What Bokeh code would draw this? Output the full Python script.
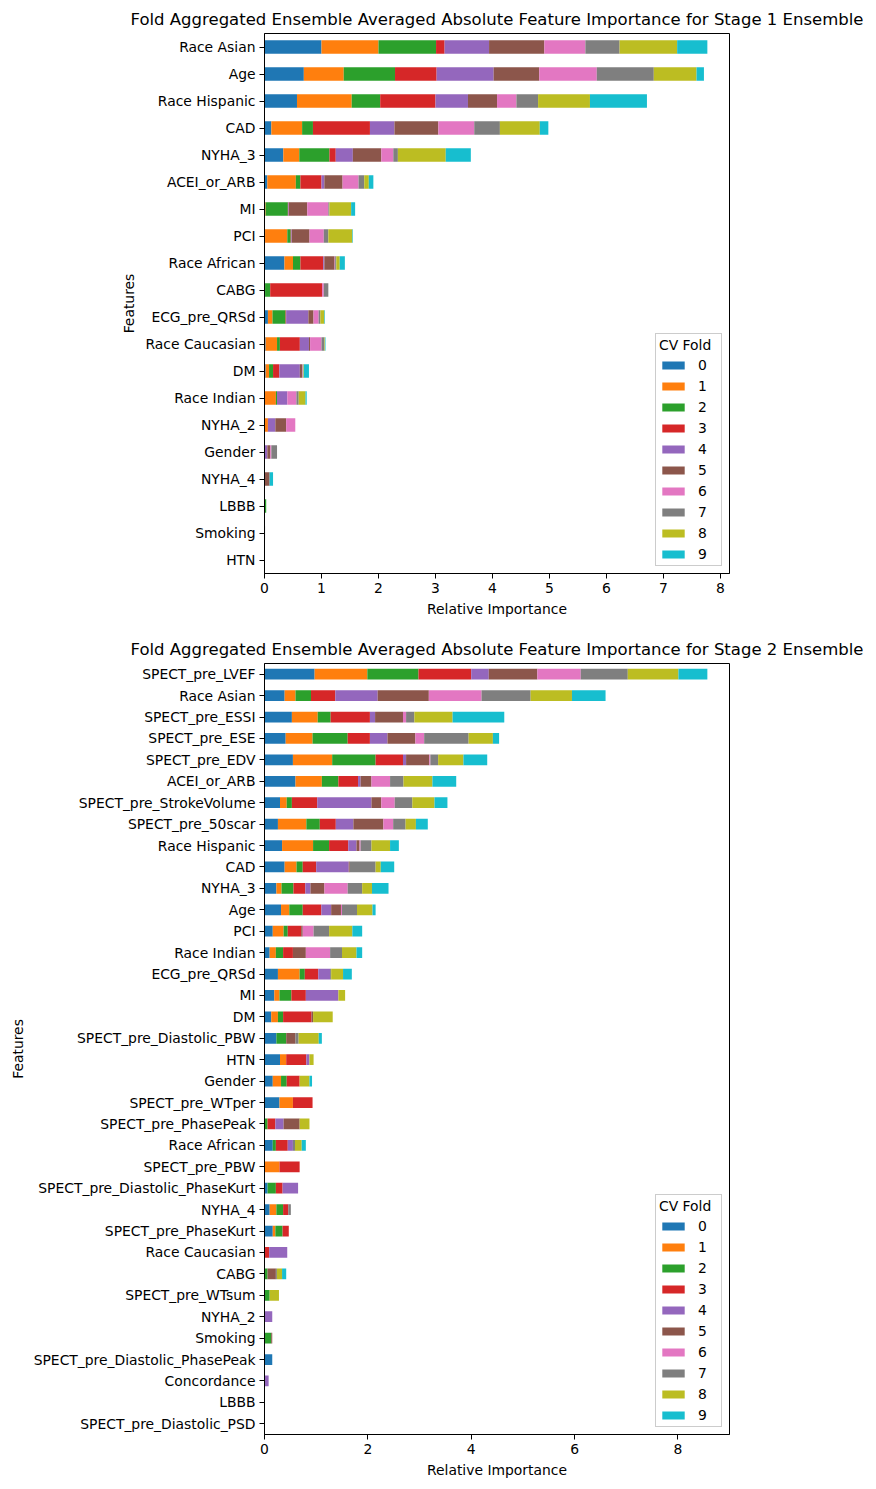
from bokeh.plotting import figure
from bokeh.models import ColumnDataSource, FactorRange, Range1d, FixedTicker
from bokeh.layouts import column
from bokeh.embed import file_html
from bokeh.resources import INLINE

COLORS = ["#1f77b4", "#ff7f0e", "#2ca02c", "#d62728", "#9467bd",
          "#8c564b", "#e377c2", "#7f7f7f", "#bcbd22", "#17becf"]
FOLDS = [str(i) for i in range(10)]
FONT = "DejaVu Sans"

# ---------------- Stage 1 ----------------
s1_features = ["Race Asian", "Age", "Race Hispanic", "CAD", "NYHA_3", "ACEI_or_ARB", "MI", "PCI",
               "Race African", "CABG", "ECG_pre_QRSd", "Race Caucasian", "DM", "Race Indian",
               "NYHA_2", "Gender", "NYHA_4", "LBBB", "Smoking", "HTN"]
s1_f0 = [1.00, 0.69, 0.57, 0.12, 0.33, 0.05, 0.01, 0.01, 0.35, 0.01, 0.06, 0.02, 0.02, 0.00, 0.00, 0.00, 0.00, 0.00, 0.00, 0.00]
s1_f1 = [1.00, 0.70, 0.96, 0.54, 0.28, 0.50, 0.01, 0.39, 0.15, 0.00, 0.08, 0.20, 0.06, 0.20, 0.06, 0.00, 0.00, 0.00, 0.00, 0.00]
s1_f2 = [1.01, 0.90, 0.50, 0.19, 0.53, 0.08, 0.39, 0.06, 0.13, 0.09, 0.23, 0.05, 0.07, 0.02, 0.00, 0.00, 0.00, 0.03, 0.00, 0.00]
s1_f3 = [0.15, 0.73, 0.97, 1.00, 0.11, 0.37, 0.01, 0.01, 0.40, 0.91, 0.01, 0.35, 0.11, 0.00, 0.00, 0.00, 0.00, 0.00, 0.00, 0.00]
s1_f4 = [0.78, 1.00, 0.57, 0.43, 0.30, 0.05, 0.01, 0.01, 0.02, 0.00, 0.39, 0.16, 0.36, 0.18, 0.13, 0.05, 0.00, 0.00, 0.00, 0.00]
s1_f5 = [0.97, 0.80, 0.51, 0.77, 0.50, 0.32, 0.32, 0.31, 0.18, 0.00, 0.09, 0.02, 0.04, 0.00, 0.19, 0.05, 0.09, 0.00, 0.00, 0.00]
s1_f6 = [0.72, 1.01, 0.34, 0.63, 0.21, 0.28, 0.37, 0.25, 0.01, 0.03, 0.09, 0.20, 0.01, 0.16, 0.16, 0.02, 0.00, 0.00, 0.00, 0.00]
s1_f7 = [0.60, 1.00, 0.38, 0.45, 0.08, 0.10, 0.02, 0.08, 0.02, 0.08, 0.03, 0.05, 0.01, 0.04, 0.00, 0.10, 0.00, 0.00, 0.01, 0.00]
s1_f8 = [1.01, 0.75, 0.91, 0.70, 0.84, 0.08, 0.38, 0.42, 0.06, 0.00, 0.07, 0.01, 0.01, 0.12, 0.00, 0.00, 0.00, 0.00, 0.00, 0.00]
s1_f9 = [0.53, 0.13, 1.00, 0.15, 0.44, 0.08, 0.07, 0.01, 0.09, 0.00, 0.01, 0.01, 0.09, 0.02, 0.00, 0.00, 0.06, 0.00, 0.00, 0.00]
s1_ticks = [0, 1, 2, 3, 4, 5, 6, 7, 8]

# ---------------- Stage 2 ----------------
s2_features = ["SPECT_pre_LVEF", "Race Asian", "SPECT_pre_ESSI", "SPECT_pre_ESE", "SPECT_pre_EDV",
               "ACEI_or_ARB", "SPECT_pre_StrokeVolume", "SPECT_pre_50scar", "Race Hispanic", "CAD",
               "NYHA_3", "Age", "PCI", "Race Indian", "ECG_pre_QRSd", "MI", "DM",
               "SPECT_pre_Diastolic_PBW", "HTN", "Gender", "SPECT_pre_WTper", "SPECT_pre_PhasePeak",
               "Race African", "SPECT_pre_PBW", "SPECT_pre_Diastolic_PhaseKurt", "NYHA_4",
               "SPECT_pre_PhaseKurt", "Race Caucasian", "CABG", "SPECT_pre_WTsum", "NYHA_2", "Smoking",
               "SPECT_pre_Diastolic_PhasePeak", "Concordance", "LBBB", "SPECT_pre_Diastolic_PSD"]
s2_f0 = [0.97, 0.39, 0.53, 0.41, 0.55, 0.60, 0.30, 0.26, 0.34, 0.39, 0.23, 0.32, 0.16, 0.10, 0.26, 0.19, 0.13, 0.23,
         0.30, 0.16, 0.29, 0.00, 0.16, 0.00, 0.06, 0.10, 0.16, 0.01, 0.00, 0.00, 0.00, 0.00, 0.15, 0.00, 0.00, 0.00]
s2_f1 = [1.02, 0.21, 0.50, 0.52, 0.76, 0.51, 0.13, 0.55, 0.60, 0.23, 0.10, 0.16, 0.21, 0.12, 0.42, 0.10, 0.13, 0.00,
         0.12, 0.16, 0.26, 0.00, 0.00, 0.29, 0.00, 0.13, 0.05, 0.00, 0.00, 0.00, 0.00, 0.00, 0.00, 0.00, 0.00, 0.00]
s2_f2 = [0.99, 0.30, 0.25, 0.68, 0.84, 0.32, 0.10, 0.26, 0.31, 0.12, 0.23, 0.26, 0.08, 0.14, 0.10, 0.23, 0.10, 0.19,
         0.00, 0.11, 0.00, 0.06, 0.06, 0.00, 0.16, 0.13, 0.14, 0.00, 0.06, 0.10, 0.00, 0.13, 0.00, 0.00, 0.00, 0.00]
s2_f3 = [1.02, 0.47, 0.76, 0.43, 0.53, 0.38, 0.49, 0.31, 0.37, 0.26, 0.23, 0.36, 0.26, 0.19, 0.26, 0.28, 0.55, 0.00,
         0.39, 0.25, 0.38, 0.15, 0.23, 0.39, 0.13, 0.10, 0.12, 0.08, 0.00, 0.00, 0.00, 0.00, 0.00, 0.00, 0.00, 0.00]
s2_f4 = [0.34, 0.82, 0.10, 0.34, 0.06, 0.05, 1.05, 0.34, 0.16, 0.63, 0.10, 0.19, 0.00, 0.00, 0.23, 0.63, 0.00, 0.00,
         0.06, 0.00, 0.00, 0.16, 0.10, 0.00, 0.30, 0.00, 0.00, 0.35, 0.00, 0.00, 0.15, 0.00, 0.00, 0.08, 0.00, 0.00]
s2_f5 = [0.94, 0.99, 0.54, 0.54, 0.45, 0.21, 0.19, 0.58, 0.06, 0.02, 0.27, 0.19, 0.03, 0.25, 0.00, 0.00, 0.03, 0.18,
         0.00, 0.00, 0.00, 0.31, 0.00, 0.00, 0.00, 0.00, 0.00, 0.00, 0.16, 0.00, 0.00, 0.02, 0.00, 0.00, 0.00, 0.00]
s2_f6 = [0.84, 1.02, 0.06, 0.17, 0.02, 0.36, 0.26, 0.19, 0.02, 0.00, 0.45, 0.02, 0.21, 0.47, 0.00, 0.00, 0.00, 0.00,
         0.00, 0.00, 0.00, 0.00, 0.00, 0.00, 0.00, 0.00, 0.00, 0.00, 0.00, 0.00, 0.00, 0.00, 0.00, 0.00, 0.00, 0.00]
s2_f7 = [0.91, 0.95, 0.16, 0.86, 0.15, 0.26, 0.34, 0.24, 0.21, 0.50, 0.28, 0.29, 0.30, 0.23, 0.02, 0.00, 0.00, 0.06,
         0.00, 0.00, 0.00, 0.00, 0.04, 0.00, 0.00, 0.05, 0.00, 0.00, 0.02, 0.00, 0.00, 0.00, 0.00, 0.00, 0.00, 0.00]
s2_f8 = [0.98, 0.80, 0.74, 0.47, 0.49, 0.56, 0.43, 0.20, 0.36, 0.10, 0.19, 0.30, 0.45, 0.28, 0.23, 0.13, 0.38, 0.39,
         0.08, 0.19, 0.00, 0.19, 0.13, 0.00, 0.00, 0.00, 0.00, 0.00, 0.10, 0.18, 0.00, 0.00, 0.00, 0.00, 0.00, 0.00]
s2_f9 = [0.56, 0.65, 1.00, 0.12, 0.46, 0.46, 0.25, 0.23, 0.17, 0.26, 0.32, 0.06, 0.19, 0.11, 0.17, 0.00, 0.00, 0.06,
         0.00, 0.05, 0.00, 0.00, 0.08, 0.00, 0.00, 0.00, 0.00, 0.00, 0.08, 0.00, 0.00, 0.00, 0.00, 0.00, 0.00, 0.00]
s2_ticks = [0, 2, 4, 6, 8]


def make_fig(title, features, folds, ticks, frame_h, min_top, min_bottom):
    data = {"feature": features}
    keys = []
    for k, vals in zip(FOLDS, folds):
        data["f" + k] = vals
        keys.append("f" + k)
    source = ColumnDataSource(data)
    totals = [sum(v[i] for v in folds) for i in range(len(features))]
    x_max = max(totals) * 1.05

    p = figure(frame_width=465, frame_height=frame_h,
               y_range=FactorRange(*reversed(features)), x_range=Range1d(0, x_max),
               output_backend="svg", toolbar_location=None, title=title,
               min_border_left=264, min_border_right=139, min_border_top=min_top,
               min_border_bottom=min_bottom, background_fill_color="white",
               border_fill_color="white")
    p.hbar_stack(keys, y="feature", height=0.5, color=COLORS, source=source,
                 legend_label=FOLDS, line_color=None)

    p.title.text_font = FONT
    p.title.text_font_size = "16.5px"
    p.title.text_font_style = "normal"
    p.title.align = "center"
    p.title.text_color = "black"

    p.xgrid.visible = False
    p.ygrid.visible = False
    p.outline_line_color = "black"
    p.outline_line_width = 1
    p.outline_line_alpha = 1

    p.xaxis.ticker = FixedTicker(ticks=ticks)
    p.xaxis.axis_label = "Relative Importance"
    p.yaxis.axis_label = "Features"
    for ax in (p.xaxis, p.yaxis):
        ax.axis_label_text_font = FONT
        ax.axis_label_text_font_size = "13.9px"
        ax.axis_label_text_font_style = "normal"
        ax.axis_label_text_color = "black"
        ax.major_label_text_font = FONT
        ax.major_label_text_font_size = "13.9px"
        ax.major_label_text_color = "black"
        ax.axis_line_color = "black"
        ax.major_tick_line_color = "black"
        ax.major_tick_in = 0
        ax.major_tick_out = 5
        ax.minor_tick_line_color = None
        ax.major_label_standoff = 4
        ax.axis_label_standoff = 5

    lg = p.legend[0]
    lg.location = "bottom_right"
    lg.title = "CV Fold"
    lg.title_text_font = FONT
    lg.title_text_font_size = "13.9px"
    lg.title_text_font_style = "normal"
    lg.title_text_color = "black"
    lg.label_text_font = FONT
    lg.label_text_font_size = "13.9px"
    lg.label_text_color = "black"
    lg.glyph_width = 28
    lg.glyph_height = 10
    lg.label_height = 13
    lg.label_standoff = 11
    lg.spacing = 5
    lg.padding = 3
    lg.margin = 7
    lg.border_line_color = "#cccccc"
    lg.border_line_alpha = 1
    lg.background_fill_alpha = 0.8
    lg.title_standoff = 4
    return p


p1 = make_fig("Fold Aggregated Ensemble Averaged Absolute Feature Importance for Stage 1 Ensemble",
              s1_features, [s1_f0, s1_f1, s1_f2, s1_f3, s1_f4, s1_f5, s1_f6, s1_f7, s1_f8, s1_f9],
              s1_ticks, 540, 33, 50)
p2 = make_fig("Fold Aggregated Ensemble Averaged Absolute Feature Importance for Stage 2 Ensemble",
              s2_features, [s2_f0, s2_f1, s2_f2, s2_f3, s2_f4, s2_f5, s2_f6, s2_f7, s2_f8, s2_f9],
              s2_ticks, 771, 40, 48)

p = column(p1, p2, spacing=0)
open("out.html", "w").write(file_html(p, INLINE))
